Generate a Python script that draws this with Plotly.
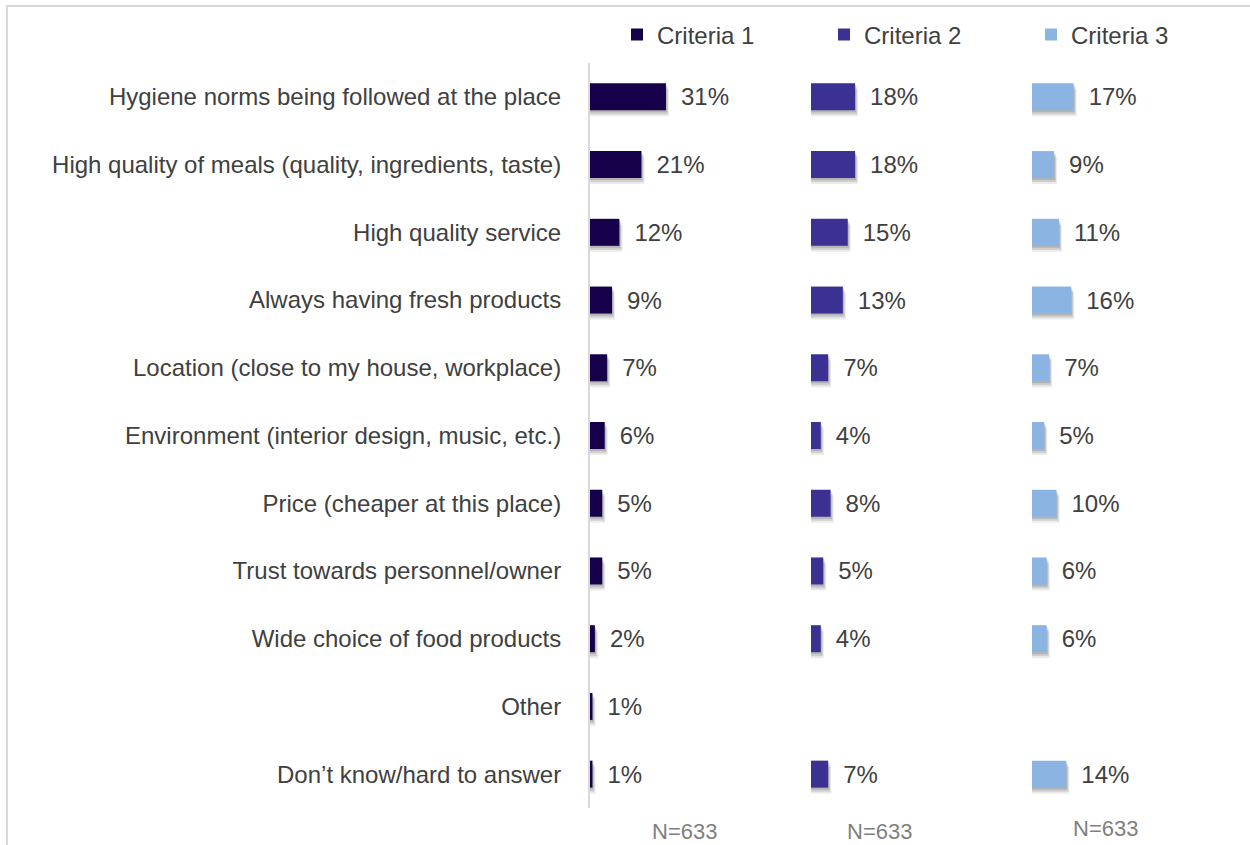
import plotly.graph_objects as go

# Reasons for choosing a place to eat, share of respondents (%)
categories = [
    "Hygiene norms being followed at the place",
    "High quality of meals (quality, ingredients, taste)",
    "High quality service",
    "Always having fresh products",
    "Location (close to my house, workplace)",
    "Environment (interior design, music, etc.)",
    "Price (cheaper at this place)",
    "Trust towards personnel/owner",
    "Wide choice of food products",
    "Other",
    "Don’t know/hard to answer",
]
criteria_1 = [31, 21, 12, 9, 7, 6, 5, 5, 2, 1, 1]
criteria_2 = [18, 18, 15, 13, 7, 4, 8, 5, 4, None, 7]
criteria_3 = [17, 9, 11, 16, 7, 5, 10, 6, 6, None, 14]
series_names = ["Criteria 1", "Criteria 2", "Criteria 3"]
sample_labels = ["N=633", "N=633", "N=633"]

colors = ["#17004a", "#3a3192", "#8cb4e2"]
FONT = "Liberation Sans, Arial, sans-serif"
TEXT = "#404040"
FS = 24

W, H = 1250, 845
PX_PER_PCT = 2.45
panel_left = [590, 811, 1032]
panel_width = 210
y_top, y_bot = 63, 808
row_px = (y_bot - y_top) / len(categories)
bar_w = 27 / row_px

positions = list(range(len(categories)))
fig = go.Figure()

for k, (name, vals) in enumerate(zip(series_names, [criteria_1, criteria_2, criteria_3])):
    xa = "x" if k == 0 else f"x{k + 1}"
    # soft drop shadow under each bar
    for dx, dy, alpha in [(3, 6, 0.10), (2, 4, 0.16), (1, 2, 0.18)]:
        fig.add_trace(go.Bar(
            x=[None if v is None else v + dx / PX_PER_PCT for v in vals],
            y=[p + dy / row_px for p in positions],
            orientation="h", width=bar_w,
            marker=dict(color=f"rgba(60,60,60,{alpha})", line=dict(width=0)),
            xaxis=xa, yaxis="y", showlegend=False, hoverinfo="skip",
        ))
    fig.add_trace(go.Bar(
        x=vals, y=positions, orientation="h", width=bar_w, name=name,
        marker=dict(color=colors[k], line=dict(width=0)),
        text=[None if v is None else f"\u2002{v}%" for v in vals],
        textposition="outside", cliponaxis=False,
        textfont=dict(family=FONT, size=FS, color=TEXT),
        xaxis=xa, yaxis="y",
    ))

layout = dict(
    width=W, height=H, margin=dict(l=0, r=0, t=0, b=0, autoexpand=False),
    paper_bgcolor="white", plot_bgcolor="rgba(0,0,0,0)",
    barmode="overlay",
    font=dict(family=FONT, size=FS, color=TEXT),
    yaxis=dict(
        domain=[(H - y_bot) / H, (H - y_top) / H],
        range=[len(categories) - 0.5, -0.5],
        tickvals=positions, ticktext=categories,
        showline=True, linecolor="#d9d9d9", linewidth=2,
        showgrid=False, zeroline=False, ticks="",
        ticklabelstandoff=22, automargin=False,
        tickfont=dict(family=FONT, size=FS, color=TEXT),
        anchor="x",
    ),
    legend=dict(
        orientation="h", x=617 / W, y=(H - 35) / H,
        xanchor="left", yanchor="middle",
        entrywidth=162, entrywidthmode="pixels",
        font=dict(family=FONT, size=FS, color=TEXT),
        itemwidth=30, bgcolor="rgba(0,0,0,0)",
    ),
    showlegend=True,
)
for k in range(3):
    key = "xaxis" if k == 0 else f"xaxis{k + 1}"
    layout[key] = dict(
        domain=[panel_left[k] / W, (panel_left[k] + panel_width) / W],
        range=[0, panel_width / PX_PER_PCT],
        visible=False, anchor="y",
    )
fig.update_layout(**layout)

# sample size under each panel
centers = [(684, 831), (879, 831), (1105, 828)]
for (cx, cy), lab in zip(centers, sample_labels):
    fig.add_annotation(
        x=cx / W, y=(H - cy) / H, xref="paper", yref="paper",
        xanchor="center", yanchor="middle",
        text=lab, showarrow=False,
        font=dict(family=FONT, size=22, color="#7f7f7f"),
    )

# chart frame
fig.add_shape(
    type="rect", xref="paper", yref="paper",
    x0=7 / W, x1=1.05, y0=-0.05, y1=(H - 6) / H,
    line=dict(color="#d9d9d9", width=2), fillcolor="rgba(0,0,0,0)",
    layer="below",
)

fig.write_html("out.html")
